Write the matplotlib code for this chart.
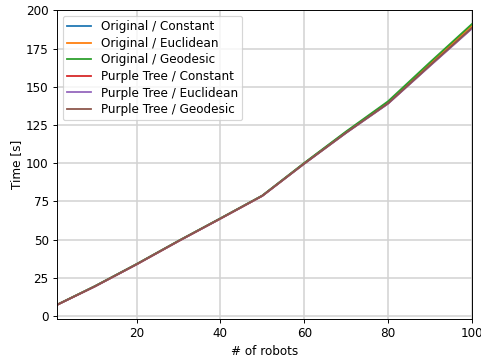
import matplotlib
matplotlib.use("Agg")
import matplotlib.pyplot as plt

# number of robots and mean planning time per configuration
robots = [1, 10, 20, 30, 40, 50, 60, 70, 80, 90, 100]

orig_constant = [7.4, 19.5, 34.0, 49.2, 63.9, 78.8, 100.0, 120.4, 139.8, 165.2, 190.4]
orig_euclidean = [7.4, 19.4, 33.9, 49.1, 63.8, 78.7, 99.9, 120.2, 139.6, 165.0, 190.0]
orig_geodesic = [7.5, 19.6, 34.1, 49.3, 64.0, 78.9, 100.2, 120.8, 140.5, 166.0, 191.0]
pt_constant = [7.3, 19.3, 33.8, 49.0, 63.7, 78.6, 99.7, 119.9, 139.0, 163.8, 188.3]
pt_euclidean = [7.3, 19.3, 33.8, 49.0, 63.7, 78.6, 99.6, 119.8, 138.9, 163.6, 188.0]
pt_geodesic = [7.3, 19.4, 33.9, 49.1, 63.8, 78.7, 99.7, 120.0, 139.2, 164.0, 188.5]

series = [
    ("Original / Constant", orig_constant),
    ("Original / Euclidean", orig_euclidean),
    ("Original / Geodesic", orig_geodesic),
    ("Purple Tree / Constant", pt_constant),
    ("Purple Tree / Euclidean", pt_euclidean),
    ("Purple Tree / Geodesic", pt_geodesic),
]

DPI = 86
fig = plt.figure(figsize=(481 / DPI, 358 / DPI), dpi=DPI)
ax = fig.add_axes([0.1185, 0.109, 0.8625, 0.863])

for i, (name, vals) in enumerate(series):
    ax.plot(robots, vals, color=f"C{i}", lw=1.5, label=name)

ax.set_xlim(1, 100)
ax.set_xticks([20, 40, 60, 80, 100])
ax.set_yticks(range(0, 201, 25))
ax.grid(True, color="#d3d3d3", lw=1.3)
ax.set_axisbelow(True)
ax.set_xlabel("# of robots")
ax.set_ylabel("Time [s]", labelpad=2)
ax.legend(loc="upper left", labelspacing=0.3, borderpad=0.35)

fig.savefig("out.png", dpi=DPI)
print("saved out.png")
